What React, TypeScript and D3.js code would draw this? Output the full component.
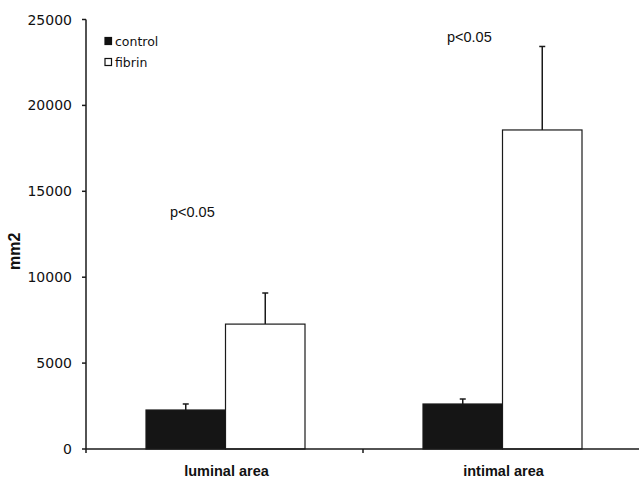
import React from 'react';
import * as d3 from 'd3';

// values
const categories = ['luminal area', 'intimal area'];
const series = ['control', 'fibrin'];
const controlMeans = [2270, 2620];
const controlErrors = [350, 290];
const fibrinMeans = [7270, 18570];
const fibrinErrors = [1810, 4860];
const yTicks = [0, 5000, 10000, 15000, 20000, 25000];
const pLabels = ['p<0.05', 'p<0.05'];
const pLabelValues = [13500, 23700];

const W = 639;
const H = 479;
const margin = { top: 19.5, right: 0, bottom: 30, left: 86 };

const App = () => {
  const x0 = d3
    .scaleBand<string>()
    .domain(categories)
    .range([margin.left, W + 1])
    .padding(0);

  const x1 = d3
    .scaleBand<string>()
    .domain(series)
    .range([60, x0.bandwidth() - 58])
    .padding(0);

  const y = d3
    .scaleLinear()
    .domain([0, 25000])
    .range([H - margin.bottom, margin.top]);

  const rows = categories.map((c, i) => ({
    cat: c,
    bars: [
      { key: 'control', mean: controlMeans[i], err: controlErrors[i] },
      { key: 'fibrin', mean: fibrinMeans[i], err: fibrinErrors[i] },
    ],
  }));

  const axisColor = '#1a1a1a';
  const y0 = y(0);
  // boundaries of the category bands get a downward tick
  const boundaries = categories.map((c) => x0(c) as number).concat([W + 1]);

  return (
    <svg
      width={W}
      height={H}
      style={{ position: 'absolute', left: 0, top: 0, background: '#fff' }}
    >
      {/* bars with error bars */}
      {rows.map((r) =>
        r.bars.map((b) => {
          const bx = (x0(r.cat) as number) + (x1(b.key) as number);
          const cx = bx + x1.bandwidth() / 2;
          return (
            <g key={r.cat + b.key}>
              <line
                x1={cx}
                x2={cx}
                y1={y(b.mean)}
                y2={y(b.mean + b.err)}
                stroke={axisColor}
                strokeWidth={1.5}
              />
              <line
                x1={cx - 3}
                x2={cx + 3}
                y1={y(b.mean + b.err)}
                y2={y(b.mean + b.err)}
                stroke={axisColor}
                strokeWidth={1.5}
              />
              <rect
                x={bx}
                y={y(b.mean)}
                width={x1.bandwidth()}
                height={y0 - y(b.mean)}
                fill={b.key === 'control' ? '#151515' : '#fff'}
                stroke={axisColor}
                strokeWidth={1.2}
              />
            </g>
          );
        })
      )}

      {/* y axis */}
      <line
        x1={margin.left}
        x2={margin.left}
        y1={y(25000)}
        y2={y0}
        stroke={axisColor}
        strokeWidth={1.5}
      />
      {yTicks.map((t) => (
        <g key={t} transform={`translate(${margin.left},${y(t)})`}>
          <line x1={-4} x2={0} stroke={axisColor} strokeWidth={1.5} />
          <text
            x={-14}
            dy="0.36em"
            textAnchor="end"
            fontFamily="DejaVu Sans, sans-serif"
            fontSize={14}
            fill="#111"
          >
            {t}
          </text>
        </g>
      ))}
      <text
        transform={`translate(20,${(y(25000) + y0) / 2 + 17}) rotate(-90)`}
        textAnchor="middle"
        fontFamily="Liberation Sans, Arial, sans-serif"
        fontWeight="bold"
        fontSize={16}
        fill="#111"
      >
        mm2
      </text>

      {/* x axis */}
      <line
        x1={margin.left}
        x2={W}
        y1={y0}
        y2={y0}
        stroke={axisColor}
        strokeWidth={1.5}
      />
      {boundaries.map((bx, i) => (
        <line
          key={i}
          x1={bx}
          x2={bx}
          y1={y0}
          y2={y0 + 4}
          stroke={axisColor}
          strokeWidth={1.5}
        />
      ))}
      {categories.map((c) => (
        <text
          key={c}
          x={(x0(c) as number) + x0.bandwidth() / 2 + 2}
          y={y0 + 27}
          textAnchor="middle"
          fontFamily="Liberation Sans, Arial, sans-serif"
          fontWeight="bold"
          fontSize={14.5}
          fill="#111"
        >
          {c}
        </text>
      ))}

      {/* significance labels */}
      {categories.map((c, i) => (
        <text
          key={'p' + c}
          x={(x0(c) as number) + 84}
          y={y(pLabelValues[i])}
          fontFamily="Liberation Sans, Arial, sans-serif"
          fontSize={14.5}
          fill="#111"
        >
          {pLabels[i]}
        </text>
      ))}

      {/* legend */}
      {series.map((s, i) => (
        <g key={s} transform={`translate(105,${41 + i * 21})`}>
          <rect
            x={0}
            y={-3.5}
            width={6.5}
            height={7}
            fill={s === 'control' ? '#111' : '#fff'}
            stroke="#111"
            strokeWidth={1.2}
          />
          <text
            x={10}
            dy="0.36em"
            fontFamily="DejaVu Sans, sans-serif"
            fontSize={12.5}
            fill="#111"
          >
            {s}
          </text>
        </g>
      ))}
    </svg>
  );
};

export default App;
